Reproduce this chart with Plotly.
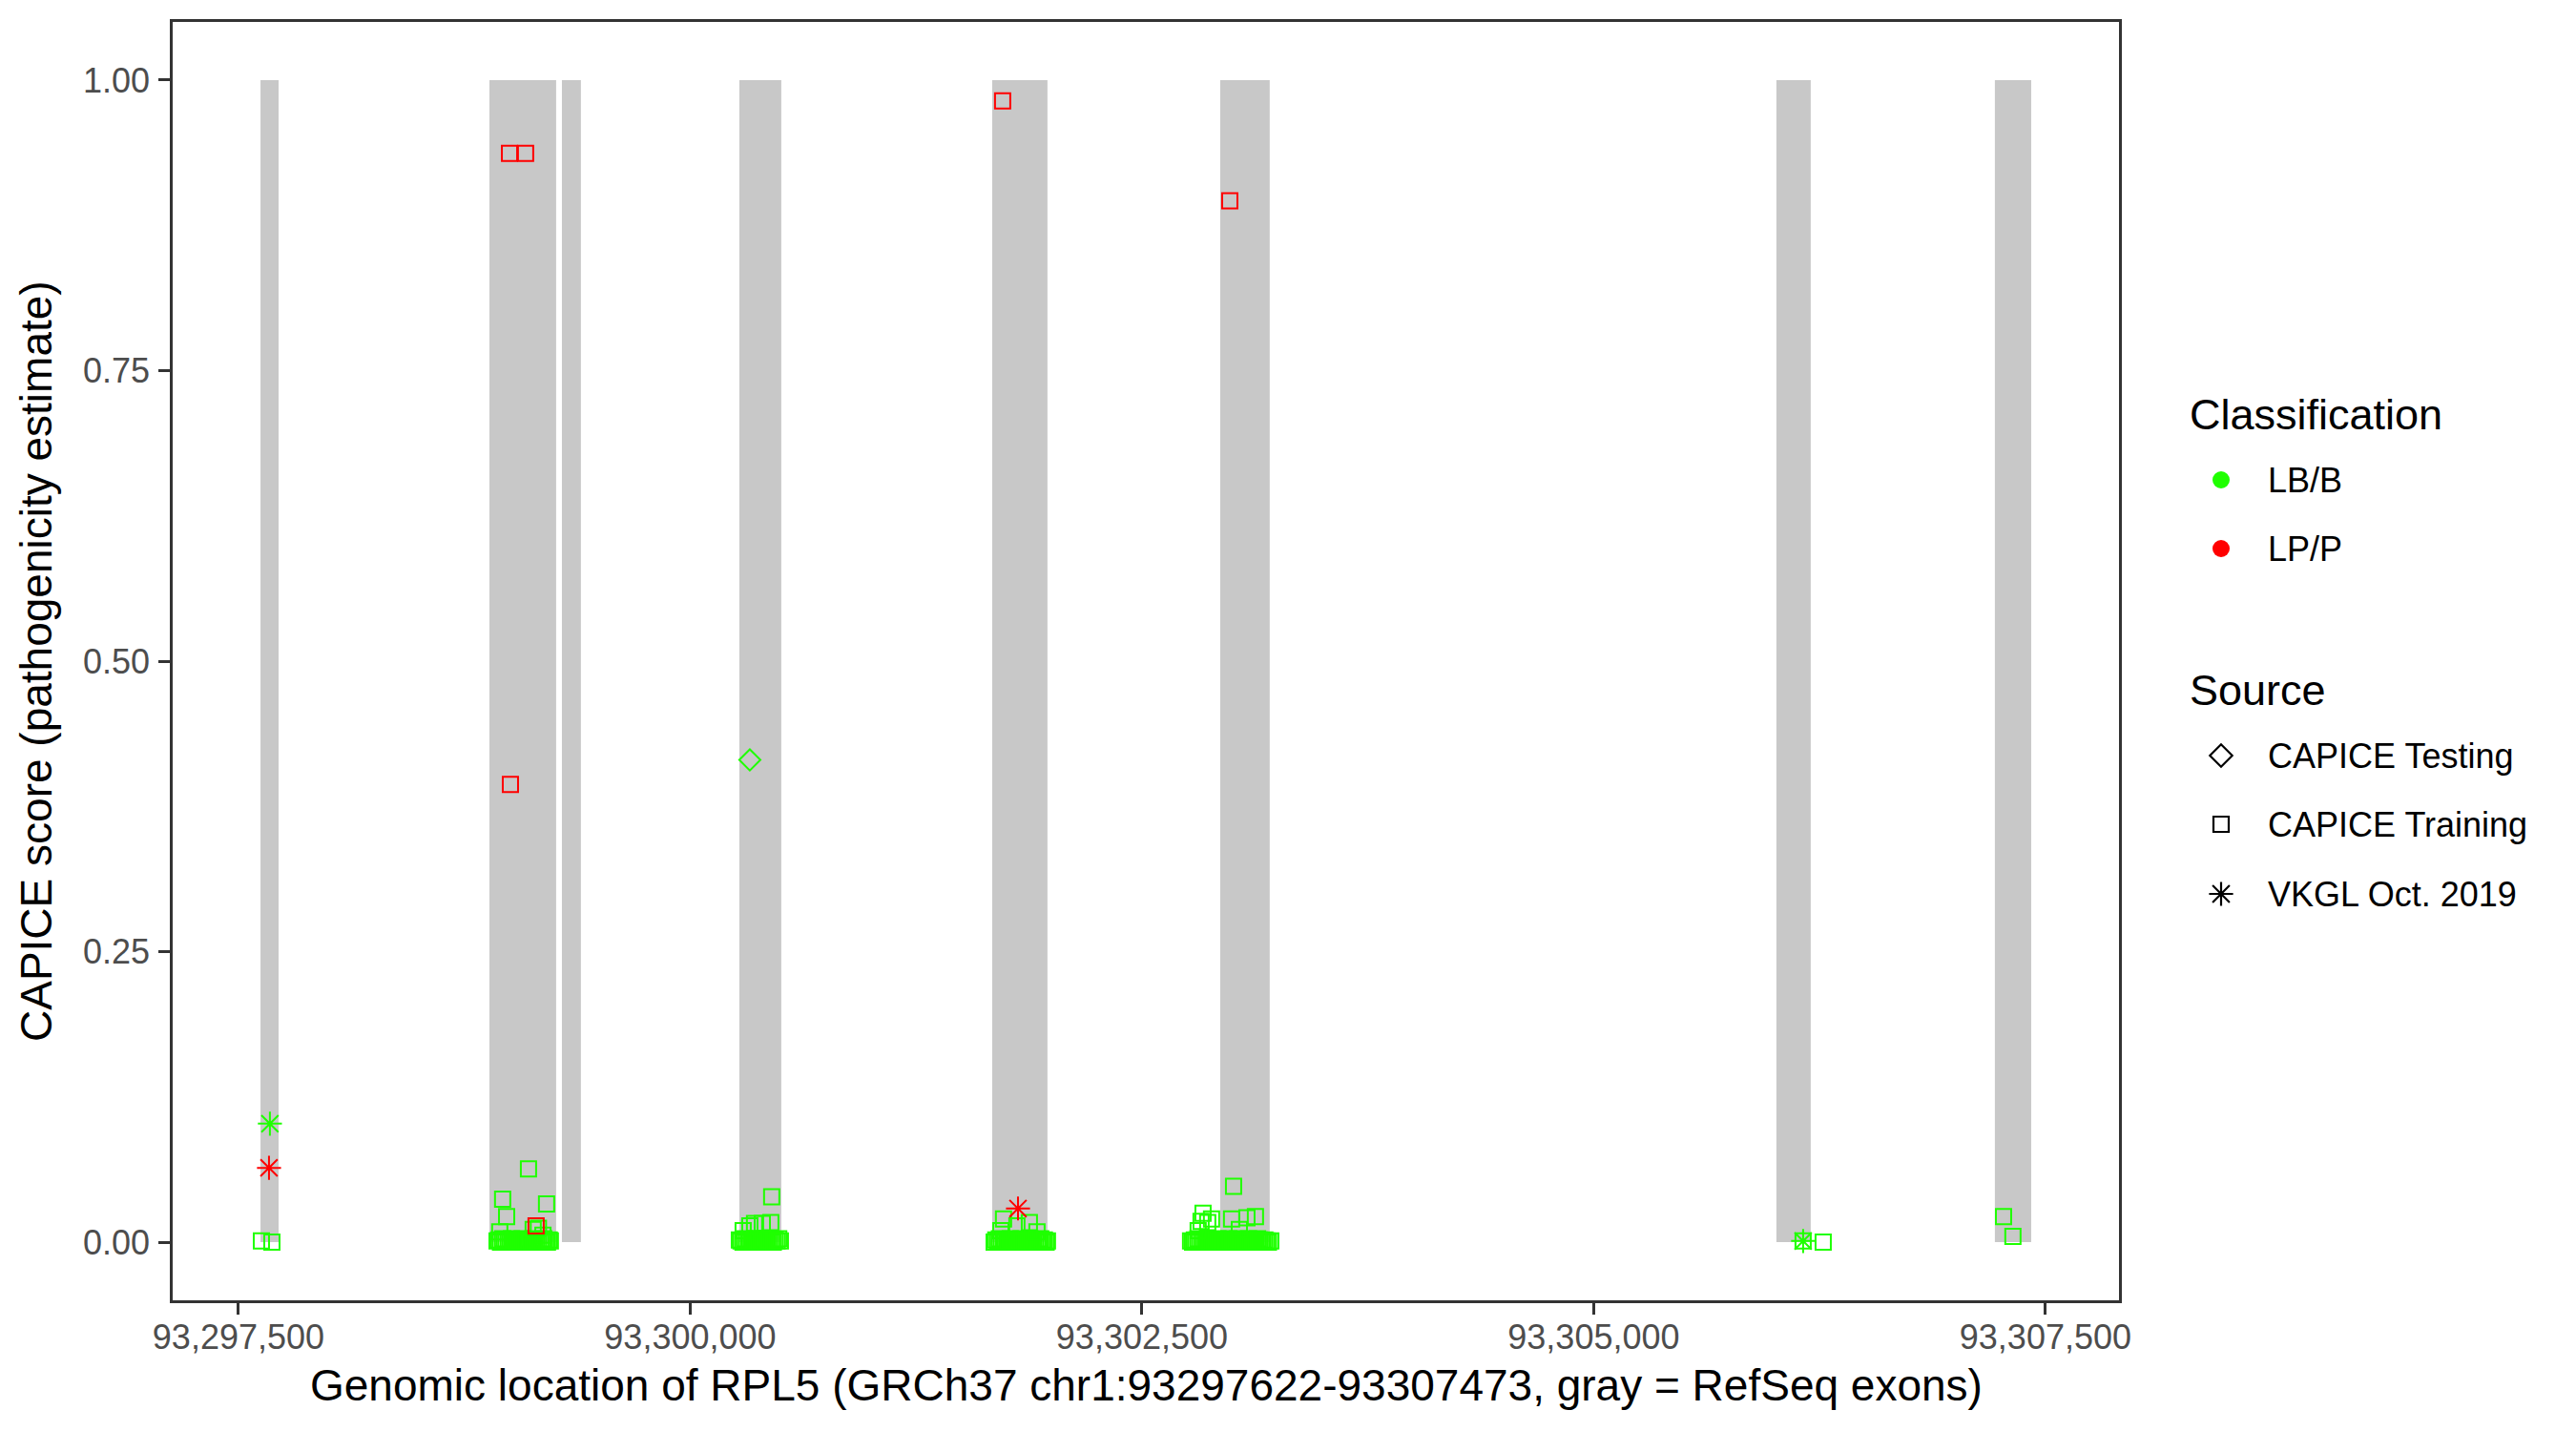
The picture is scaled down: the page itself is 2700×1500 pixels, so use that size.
import plotly.graph_objects as go

# ---------------- data ----------------
exon_start = [93297622, 93298889, 93299290, 93300272, 93301671, 93302933, 93306011, 93307220]
exon_end = [93297722, 93299258, 93299395, 93300504, 93301977, 93303207, 93306201, 93307421]

# LB/B - CAPICE Training (scattered, above the baseline)
lb_train_pos_a = [93297627, 93297685,
                  93299105, 93298962, 93299205, 93298984, 93299131, 93298946, 93299160, 93299185,
                  93300451, 93300446, 93300399, 93300356, 93300330, 93300293,
                  93301734, 93301877, 93301808, 93301719, 93301919,
                  93303007, 93302838, 93302885, 93302996, 93303128, 93303081, 93302827, 93302864, 93302811, 93303039,
                  93306159, 93306270,
                  93307268, 93307320]
lb_train_score_a = [0.001, 0.000,
                    0.063, 0.037, 0.033, 0.022, 0.011, 0.009, 0.012, 0.006,
                    0.039, 0.017, 0.016, 0.016, 0.014, 0.010,
                    0.020, 0.017, 0.014, 0.010, 0.009,
                    0.048, 0.025, 0.020, 0.020, 0.022, 0.021, 0.018, 0.017, 0.010, 0.011,
                    0.001, 0.000,
                    0.022, 0.005]

# LB/B - CAPICE Training (dense near-zero clusters per exon)
lb_train_pos_ex2 = [93298931, 93298941, 93298950, 93298962, 93298971, 93298980, 93298992, 93299001,
                    93299011, 93299020, 93299032, 93299041, 93299050, 93299062, 93299070, 93299081,
                    93299090, 93299101, 93299110, 93299121, 93299130, 93299140, 93299151, 93299160,
                    93299171, 93299180, 93299190, 93299201, 93299210, 93299220, 93299226]
lb_train_score_ex2 = [0.001, 0.002, 0.000, 0.003, 0.001, 0.002, 0.000, 0.001,
                      0.003, 0.002, 0.001, 0.000, 0.002, 0.001, 0.003, 0.000,
                      0.001, 0.002, 0.001, 0.000, 0.003, 0.002, 0.001, 0.000,
                      0.002, 0.001, 0.003, 0.001, 0.000, 0.002, 0.001]
lb_train_pos_ex4 = [93300272, 93300281, 93300292, 93300301, 93300311, 93300322, 93300330, 93300341,
                    93300350, 93300361, 93300370, 93300380, 93300391, 93300400, 93300410, 93300421,
                    93300430, 93300440, 93300451, 93300460, 93300470, 93300481, 93300490, 93300499]
lb_train_score_ex4 = [0.002, 0.001, 0.000, 0.003, 0.001, 0.002, 0.001, 0.000,
                      0.002, 0.003, 0.001, 0.000, 0.001, 0.002, 0.000, 0.003,
                      0.001, 0.002, 0.001, 0.000, 0.002, 0.001, 0.003, 0.001]
lb_train_pos_ex5 = [93301682, 93301691, 93301702, 93301711, 93301721, 93301732, 93301740, 93301751,
                    93301760, 93301771, 93301780, 93301790, 93301801, 93301810, 93301820, 93301831,
                    93301840, 93301850, 93301861, 93301870, 93301880, 93301891, 93301900, 93301910,
                    93301921, 93301930, 93301940, 93301951, 93301960, 93301970, 93301977]
lb_train_score_ex5 = [0.000, 0.002, 0.001, 0.003, 0.000, 0.001, 0.002, 0.001,
                      0.000, 0.003, 0.002, 0.001, 0.000, 0.002, 0.001, 0.003,
                      0.001, 0.000, 0.002, 0.001, 0.003, 0.000, 0.001, 0.002,
                      0.001, 0.000, 0.003, 0.001, 0.002, 0.000, 0.001]
lb_train_pos_ex6 = [93302769, 93302780, 93302790, 93302799, 93302810, 93302820, 93302831, 93302840,
                    93302850, 93302861, 93302870, 93302880, 93302891, 93302900, 93302910, 93302921,
                    93302930, 93302940, 93302951, 93302960, 93302970, 93302981, 93302990, 93303000,
                    93303011, 93303020, 93303030, 93303041, 93303050, 93303060, 93303071, 93303080,
                    93303090, 93303101, 93303110, 93303120, 93303131, 93303140, 93303150, 93303161,
                    93303170, 93303180, 93303191, 93303200, 93303213]
lb_train_score_ex6 = [0.001, 0.000, 0.002, 0.001, 0.003, 0.000, 0.001, 0.002,
                      0.001, 0.003, 0.000, 0.002, 0.001, 0.000, 0.002, 0.003,
                      0.001, 0.000, 0.002, 0.001, 0.000, 0.003, 0.001, 0.002,
                      0.000, 0.001, 0.003, 0.002, 0.000, 0.001, 0.002, 0.000,
                      0.003, 0.001, 0.002, 0.000, 0.001, 0.003, 0.002, 0.001,
                      0.000, 0.002, 0.001, 0.000, 0.001]

# LP/P - CAPICE Training
lp_train_pos = [93299000, 93299089, 93299005, 93299147, 93301729, 93302986]
lp_train_score = [0.937, 0.937, 0.394, 0.014, 0.982, 0.896]

# LB/B - CAPICE Testing
lb_test_pos = [93300330]
lb_test_score = [0.415]

# VKGL Oct. 2019
lb_vkgl_pos = [93297674, 93306159]
lb_vkgl_score = [0.102, 0.001]
lp_vkgl_pos = [93297669, 93301814]
lp_vkgl_score = [0.064, 0.029]

x_tick_vals = [93297500, 93300000, 93302500, 93305000, 93307500]
x_tick_text = ["93,297,500", "93,300,000", "93,302,500", "93,305,000", "93,307,500"]
y_tick_vals = [0.0, 0.25, 0.5, 0.75, 1.0]
y_tick_text = ["0.00", "0.25", "0.50", "0.75", "1.00"]

class_labels = ["LB/B", "LP/P"]
source_labels = ["CAPICE Testing", "CAPICE Training", "VKGL Oct. 2019"]

# ---------------- styling ----------------
W, H = 2700, 1500
OFF = 8                                  # page offset of the figure (body margin)
PL, PR, PT, PB = 181 - OFF, 2221 - OFF, 23 - OFF, 1363 - OFF   # panel edges in figure px
GREEN = "#1FFF00"
RED = "#FF0000"
GRAY = "#C8C8C8"
FONT = "Liberation Sans, Arial, Helvetica, sans-serif"
TICKCOL = "#4D4D4D"
LINECOL = "#333333"

fig = go.Figure()

# exons as rectangles on data axes
for s, e in zip(exon_start, exon_end):
    fig.add_shape(type="rect", xref="x", yref="y", x0=s, x1=e, y0=0, y1=1,
                  fillcolor=GRAY, line=dict(width=0), layer="below")

def pts(x, y, color, symbol, size, lw=2):
    fig.add_trace(go.Scatter(
        x=x, y=y, mode="markers", showlegend=False, hoverinfo="x+y",
        marker=dict(symbol=symbol, size=size, color=color, line=dict(width=lw, color=color)),
        xaxis="x", yaxis="y"))

lb_all_pos = lb_train_pos_ex2 + lb_train_pos_ex4 + lb_train_pos_ex5 + lb_train_pos_ex6 + lb_train_pos_a
lb_all_score = lb_train_score_ex2 + lb_train_score_ex4 + lb_train_score_ex5 + lb_train_score_ex6 + lb_train_score_a
pts(lb_all_pos, lb_all_score, GREEN, "square-open", 16)
pts(lp_train_pos, lp_train_score, RED, "square-open", 16)
pts(lb_test_pos, lb_test_score, GREEN, "diamond-open", 17)
pts(lb_vkgl_pos, lb_vkgl_score, GREEN, "asterisk-open", 21)
pts(lp_vkgl_pos, lp_vkgl_score, RED, "asterisk-open", 21)

# ---------------- hand-built legend (axis in page-pixel units) ----------------
LX0 = 2240
leg_marker_x = 2328
leg_text_x = 2375
fig.add_trace(go.Scatter(x=[leg_marker_x, leg_marker_x], y=[503, 575], mode="markers",
                         marker=dict(symbol="circle", size=18, color=[GREEN, RED], line=dict(width=0)),
                         xaxis="x2", yaxis="y2", showlegend=False, hoverinfo="skip"))
fig.add_trace(go.Scatter(x=[leg_marker_x], y=[792], mode="markers",
                         marker=dict(symbol="diamond-open", size=18, color="black", line=dict(width=2.2, color="black")),
                         xaxis="x2", yaxis="y2", showlegend=False, hoverinfo="skip"))
fig.add_trace(go.Scatter(x=[leg_marker_x], y=[864], mode="markers",
                         marker=dict(symbol="square-open", size=16, color="black", line=dict(width=2.2, color="black")),
                         xaxis="x2", yaxis="y2", showlegend=False, hoverinfo="skip"))
fig.add_trace(go.Scatter(x=[leg_marker_x], y=[937], mode="markers",
                         marker=dict(symbol="asterisk-open", size=21, color="black", line=dict(width=2.2, color="black")),
                         xaxis="x2", yaxis="y2", showlegend=False, hoverinfo="skip"))

annotations = []
def txt(x, y, s, size, color="black", xanchor="left", angle=0, xref="x2", yref="y2"):
    annotations.append(dict(x=x, y=y, xref=xref, yref=yref, text=s, showarrow=False,
                            xanchor=xanchor, yanchor="middle", textangle=angle,
                            font=dict(family=FONT, size=size, color=color)))

txt(2293, 434, "Classification", 45)
for lab, yy in zip(class_labels, [503, 575]):
    txt(leg_text_x, yy, lab, 36)
txt(2293, 723, "Source", 45)
for lab, yy in zip(source_labels, [792, 864, 937]):
    txt(leg_text_x, yy, lab, 36)

# axis titles (paper coords, figure px)
txt((PL + PR) / 2 / W, 1 - (1452 - OFF) / H,
    "Genomic location of RPL5 (GRCh37 chr1:93297622-93307473, gray = RefSeq exons)",
    46, xanchor="center", xref="paper", yref="paper")
txt((38 - OFF) / W, 1 - (PT + PB) / 2 / H, "CAPICE score (pathogenicity estimate)", 46,
    xanchor="center", angle=-90, xref="paper", yref="paper")

axis_common = dict(showgrid=False, zeroline=False, showline=True, linecolor=LINECOL, linewidth=2.5,
                   mirror=True, ticks="outside", ticklen=12, tickwidth=2.5, tickcolor=LINECOL,
                   automargin=False,
                   tickfont=dict(family=FONT, size=36, color=TICKCOL))

fig.update_layout(
    template="none",
    width=W, height=H,
    margin=dict(l=0, r=0, t=0, b=0, pad=0, autoexpand=False),
    paper_bgcolor="white", plot_bgcolor="white",
    font=dict(family=FONT, color="black"),
    xaxis=dict(domain=[PL / W, PR / W], range=[93297136, 93307907],
               tickvals=x_tick_vals, ticktext=x_tick_text, anchor="y",
               ticklabelstandoff=-7, **axis_common),
    yaxis=dict(domain=[1 - PB / H, 1 - PT / H], range=[-0.05, 1.05],
               tickvals=y_tick_vals, ticktext=y_tick_text, anchor="x",
               ticklabelstandoff=2, **axis_common),
    xaxis2=dict(domain=[(LX0 - OFF) / W, 1.0], range=[LX0, W + OFF], visible=False, anchor="y2",
                fixedrange=True, automargin=False),
    yaxis2=dict(domain=[0.0, 1.0], range=[H + OFF, OFF], visible=False, anchor="x2",
                fixedrange=True, automargin=False),
    annotations=annotations,
    showlegend=False,
)

fig.write_html("out.html")
